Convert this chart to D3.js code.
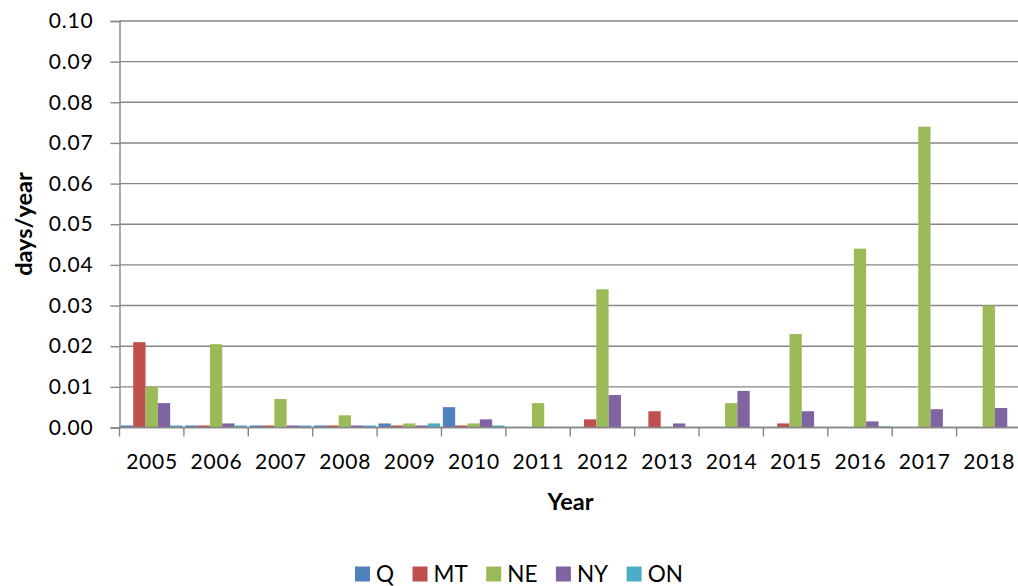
<!DOCTYPE html>
<html><head><meta charset="utf-8">
<script src="https://cdn.jsdelivr.net/npm/d3@7"></script>
<style>body{margin:0;background:#fff}svg{display:block}text{font-family:Lato,"Open Sans",sans-serif;fill:#000}</style>
</head><body><svg id="c" width="1018" height="586"></svg>
<script>
const years = ["2005","2006","2007","2008","2009","2010","2011","2012","2013","2014","2015","2016","2017","2018"];
const seriesNames = ["Q","MT","NE","NY","ON"];
const colors = ["#4F81BD","#C0504D","#9BBB59","#8064A2","#4BACC6"];
const Q  = [0.0005,0.0005,0.0005,0.0005,0.001,0.005,null,null,null,null,null,null,null,null];
const MT = [0.021,0.0005,0.0005,0.0005,0.0005,0.0005,null,0.002,0.004,null,0.001,null,null,null];
const NE = [0.010,0.0205,0.007,0.003,0.001,0.001,0.006,0.034,null,0.006,0.023,0.044,0.074,0.030];
const NY = [0.006,0.001,0.0005,0.0005,0.0005,0.002,null,0.008,0.001,0.009,0.004,0.0015,0.0045,0.0048];
const ON = [0.0005,0.0005,0.0005,0.0005,0.001,0.0005,null,null,null,null,null,0.0003,null,null];
const yTicks = [0,0.01,0.02,0.03,0.04,0.05,0.06,0.07,0.08,0.09,0.10];
const seriesValues = [Q,MT,NE,NY,ON];

(function(){
const svg = d3.select("#c");
const pL = 119.5, pR = 1021, pT = 21, pB = 427.5;
const x = d3.scaleBand().domain(years).range([pL,pR]).paddingInner(0).paddingOuter(0);
const x1 = d3.scaleBand().domain(seriesNames).range([0,x.bandwidth()]).paddingOuter(0.112).paddingInner(0);
const y = d3.scaleLinear().domain([0,0.10]).range([pB,pT]);

// gridlines
svg.append("g").selectAll("line").data(yTicks).join("line")
  .attr("x1",pL).attr("x2",pR).attr("y1",d=>y(d)).attr("y2",d=>y(d))
  .attr("stroke","#868686").attr("stroke-width",1.4);

// bars
seriesNames.forEach((s,i)=>{
  svg.append("g").selectAll("rect").data(years.map((yr,j)=>({yr,v:seriesValues[i][j]})).filter(d=>d.v!=null))
    .join("rect")
    .attr("x",d=>x(d.yr)+x1(s)).attr("width",x1.bandwidth())
    .attr("y",d=>y(d.v)).attr("height",d=>y(0)-y(d.v))
    .attr("fill",colors[i]);
});

// y axis
const yAxis = d3.axisLeft(y).tickValues(yTicks).tickFormat(d3.format(".2f")).tickSize(9).tickPadding(17);
const ga = svg.append("g").attr("transform",`translate(${pL},0)`).call(yAxis);
ga.select(".domain").attr("stroke","#868686").attr("stroke-width",1.4);
ga.selectAll(".tick line").attr("stroke","#868686").attr("stroke-width",1.4);
ga.selectAll("text").style("font-size","21px").style("letter-spacing","0.8px").attr("fill","#000").style("font-family","Lato");

// x axis
svg.append("line").attr("x1",pL).attr("x2",pR).attr("y1",pB).attr("y2",pB).attr("stroke","#868686").attr("stroke-width",1.4);
const bounds = years.map(yr=>x(yr)).concat([pR]);
svg.append("g").selectAll("line").data(bounds).join("line")
  .attr("x1",d=>d).attr("x2",d=>d).attr("y1",pB).attr("y2",pB+9)
  .attr("stroke","#868686").attr("stroke-width",1.4);
svg.append("g").selectAll("text").data(years).join("text")
  .attr("x",d=>x(d)+x.bandwidth()/2+0.4).attr("y",pB+41)
  .attr("text-anchor","middle").style("font-size","21px").style("letter-spacing","0.8px").text(d=>d);

// axis titles
svg.append("text").attr("transform",`translate(32,224) rotate(-90)`)
  .attr("text-anchor","middle").style("font-size","23.5px").style("font-weight","bold").text("days/year");
svg.append("text").attr("x",570.5).attr("y",510).attr("text-anchor","middle")
  .style("font-size","23.5px").style("font-weight","bold").text("Year");

// legend
const lg = svg.append("g");
let cx = 0;
seriesNames.forEach((s,i)=>{
  const g = lg.append("g").attr("transform",`translate(${cx},0)`);
  g.append("rect").attr("x",0).attr("y",566.5).attr("width",15).attr("height",15).attr("fill",colors[i]);
  const t = g.append("text").attr("x",21).attr("y",581.5).style("font-size","22.5px").text(s);
  cx += 21 + t.node().getComputedTextLength() + 18.5;
});
lg.attr("transform",`translate(${355},0)`);
})();
</script></body></html>
